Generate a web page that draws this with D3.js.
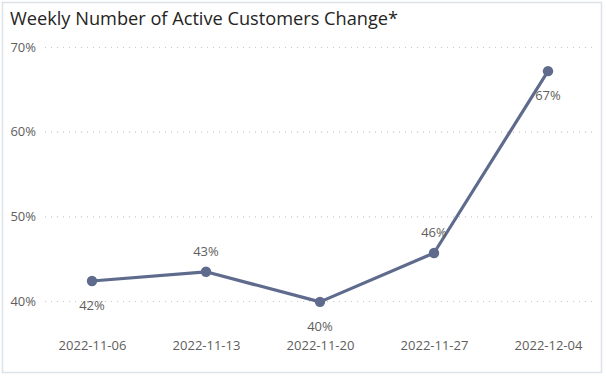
<!DOCTYPE html>
<html><head><meta charset="utf-8">
<script src="https://cdn.jsdelivr.net/npm/d3@7"></script>
<style>body{margin:0;background:#fff;}svg{display:block;font-family:"Open Sans","Segoe UI",sans-serif;}</style>
</head><body>
<svg id="c" width="606" height="380"></svg>
<script>
const categories = ["2022-11-06","2022-11-13","2022-11-20","2022-11-27","2022-12-04"];
const values = [0.4236, 0.4345, 0.3990, 0.4567, 0.6715];
const labelPos = ["below","above","below","above","below"];
const yTicks = [0.4, 0.5, 0.6, 0.7];

const svg = d3.select("#c");
svg.append("rect").attr("x",2.5).attr("y",2.5).attr("width",599).attr("height",370)
  .attr("fill","#fff").attr("stroke","#dde2ea").attr("stroke-width",1.5);
svg.append("text").attr("x",10).attr("y",25).attr("font-size",18.2).attr("fill","#252423")
  .text("Weekly Number of Active Customers Change*");

const x = d3.scalePoint().domain(categories).range([92,548]);
const y = d3.scaleLinear().domain([0.4,0.7]).range([301,47]);

const yAxis = svg.append("g").attr("transform","translate(45,0)")
  .call(d3.axisLeft(y).tickValues(yTicks).tickFormat(d3.format(".0%")).tickSize(-550).tickPadding(9));
yAxis.select(".domain").remove();
yAxis.selectAll(".tick line").attr("stroke","#c8c8c8").attr("stroke-dasharray","1,5").attr("stroke-width",1.2);
yAxis.selectAll(".tick text").attr("fill","#605e5c").attr("font-size",13).attr("font-family","'Open Sans',sans-serif");

const xAxis = svg.append("g").attr("transform","translate(0,345)")
  .call(d3.axisBottom(x).tickSize(0).tickPadding(0));
xAxis.select(".domain").remove();
xAxis.selectAll(".tick text").attr("fill","#605e5c").attr("font-size",13).attr("font-family","'Open Sans',sans-serif").attr("dy","0.35em");

const color = "#5f6b8d";
svg.append("path").datum(values)
  .attr("d", d3.line().x((d,i)=>x(categories[i])).y(d=>y(d)))
  .attr("fill","none").attr("stroke",color).attr("stroke-width",3.2).attr("stroke-linejoin","round");
svg.selectAll("circle.pt").data(values).join("circle").attr("class","pt")
  .attr("cx",(d,i)=>x(categories[i])).attr("cy",d=>y(d)).attr("r",5.2).attr("fill",color);
svg.selectAll("text.lbl").data(values).join("text").attr("class","lbl")
  .attr("x",(d,i)=>x(categories[i])).attr("y",(d,i)=>y(d)+(labelPos[i]==="below"?29:-16))
  .attr("text-anchor","middle").attr("font-size",13).attr("fill","#605e5c")
  .text(d=>d3.format(".0%")(d));
</script>
</body></html>
